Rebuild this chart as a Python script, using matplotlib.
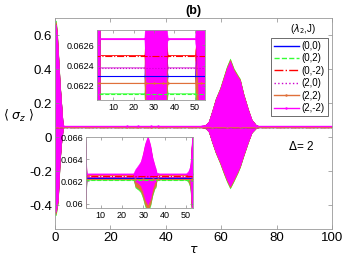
import numpy as np
import matplotlib
matplotlib.use("Agg")
import matplotlib.pyplot as plt

plt.rcParams['font.family'] = ['Liberation Sans', 'DejaVu Sans']
plt.rcParams['mathtext.fontset'] = 'dejavusans'

# series: (lambda2, J) labels, colours, line styles, baseline level
labels = ['(0,0)', '(0,2)', '(0,-2)', '(2,0)', '(2,2)', '(2,-2)']
colors = ['#0000ff', '#33ff33', '#ff0000', '#cc00cc', '#e0703a', '#ff00ff']
styles = ['-', '--', '-.', ':', '-', '-']
markers = ['', '', '', '', '.', '.']
baseline = [0.062294, 0.062121, 0.062498, 0.062377, 0.062227, 0.062666]
# relative size of the oscillation envelope (read from the peaks)
amp = [1.0, 1.04, 1.01, 1.0, 1.025, 1.0]

# envelope of the fast oscillation of <sigma_z> around the baseline (2,-2)
t_env = [0, 0.3, 0.7, 1.0, 1.3, 1.7, 2.2, 2.7, 3.0, 3.3, 3.6,
         25.5, 26, 26.5, 28, 29, 30, 31, 32.3, 33.5, 34.5, 35.5, 36, 36.5, 37,
         50.3, 51.3, 52.3, 53, 53.5, 54.5, 55.5, 56.7, 58, 59.6, 61, 62,
         63.2, 64.5, 66, 66.8, 68, 69.7, 71, 72.5, 74, 100]
env_up = [0.59, 0.60, 0.54, 0.45, 0.37, 0.25, 0.14, 0.03, 0.0035, 0.0015, 0.0,
          0.0, 0.0002, 0.0004, 0.0008, 0.0011, 0.0018, 0.0027, 0.0034, 0.0026, 0.0015, 0.0008, 0.0005, 0.0001, 0.0,
          0.0, 0.0002, 0.0007, 0.003, 0.006, 0.012, 0.03, 0.09, 0.16, 0.22, 0.29, 0.34,
          0.385, 0.33, 0.29, 0.27, 0.19, 0.10, 0.04, 0.01, 0.0, 0.0]
env_lo = [-0.50, -0.50, -0.46, -0.43, -0.34, -0.20, -0.10, -0.03, -0.003, -0.0015, 0.0,
          0.0, -0.0003, -0.0007, -0.0009, -0.0011, -0.0016, -0.0023, -0.0028, -0.0023, -0.0014, -0.0008, -0.0007, -0.0001, 0.0,
          0.0, -0.0002, -0.0007, -0.003, -0.006, -0.012, -0.03, -0.09, -0.15, -0.21, -0.27, -0.31,
          -0.35, -0.31, -0.26, -0.23, -0.17, -0.09, -0.035, -0.01, 0.0, 0.0]

t_env = np.array(t_env)
env_up = np.array(env_up)
env_lo = np.array(env_lo)


def draw(ax, lw=0.8, with_labels=False):
    for i in range(len(labels)):
        b = baseline[i]
        ax.fill_between(t_env, b + amp[i] * env_lo, b + amp[i] * env_up,
                        color=colors[i], lw=0.3)
        ax.plot(t_env, np.full(len(t_env), b), color=colors[i], ls=styles[i],
                lw=lw, marker=markers[i], markersize=1.5, markevery=4,
                label=labels[i] if with_labels else None)


def style(ax, size, ticklen):
    ax.tick_params(direction='in', top=True, right=True, labelsize=size,
                   length=ticklen, width=0.5, color='#888888', pad=2)
    for s in ax.spines.values():
        s.set_color('#999999')
        s.set_linewidth(0.6)


fig = plt.figure(figsize=(3.49, 2.62), dpi=100)

# main axes
ax = fig.add_axes([0.158, 0.126, 0.793, 0.805])
draw(ax, lw=1.0, with_labels=True)
ax.set_xlim(0, 100)
ax.set_ylim(-0.54, 0.70)
ax.set_xticks([0, 20, 40, 60, 80, 100])
ax.set_yticks([-0.4, -0.2, 0, 0.2, 0.4, 0.6])
ax.set_yticklabels(['-0.4', '-0.2', '0', '0.2', '0.4', '0.6'])
style(ax, 9.5, 3)
ax.set_xlabel(r'$\tau$', fontsize=9, labelpad=0)
ax.set_ylabel(r'$\langle\ \sigma_z\ \rangle$', fontsize=9, rotation=0, labelpad=8)
ax.set_title('(b)', fontsize=9, fontweight='bold', pad=3)
ax.text(0.84, 0.375, r'$\Delta$= 2', transform=ax.transAxes, fontsize=8.5)
ax.text(0.895, 0.935, r'($\lambda_2$,J)', transform=ax.transAxes, fontsize=7,
        ha='center')
leg = ax.legend(loc='upper right', bbox_to_anchor=(0.985, 0.905), fontsize=7,
                handlelength=2.6, handletextpad=0.3, borderpad=0.3,
                labelspacing=0.25, fancybox=False, framealpha=1,
                edgecolor='#555555', borderaxespad=0)
leg.get_frame().set_linewidth(0.6)

# inset 1: zoom on the baselines
ax1 = fig.add_axes([0.278, 0.618, 0.309, 0.267])
draw(ax1)
ax1.set_xlim(2, 55)
ax1.set_ylim(0.06206, 0.06275)
ax1.set_xticks([10, 20, 30, 40, 50])
ax1.set_yticks([0.0622, 0.0624, 0.0626])
ax1.set_yticklabels(['0.0622', '0.0624', '0.0626'])
style(ax1, 6.5, 2)

# inset 2: wider zoom around the baselines
ax2 = fig.add_axes([0.246, 0.206, 0.308, 0.271])
draw(ax2)
ax2.set_xlim(3, 53.5)
ax2.set_ylim(0.0596, 0.066)
ax2.set_xticks([10, 20, 30, 40, 50])
ax2.set_yticks([0.06, 0.062, 0.064, 0.066])
ax2.set_yticklabels(['0.06', '0.062', '0.064', '0.066'])
style(ax2, 6.5, 2)

fig.savefig('out.png', dpi=100)
